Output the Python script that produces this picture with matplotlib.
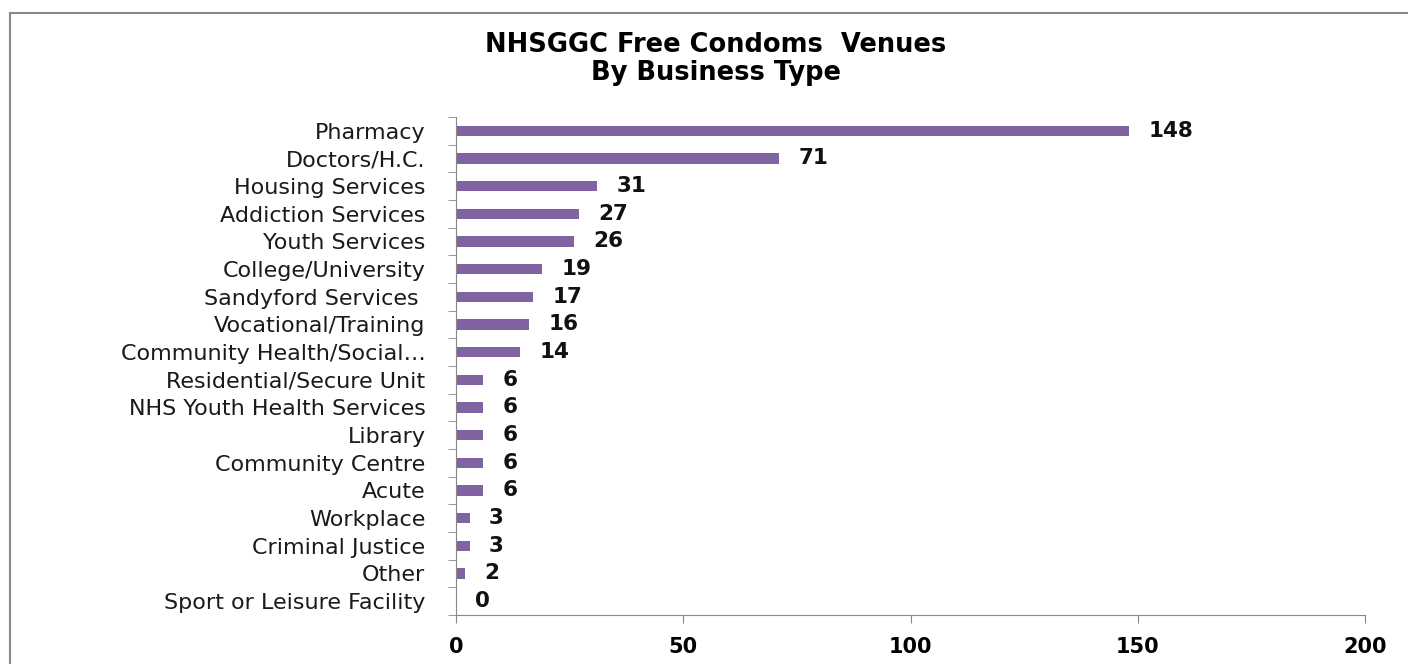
import matplotlib
matplotlib.use("Agg")
import matplotlib.pyplot as plt
from matplotlib.patches import Rectangle
import numpy as np

categories = ["Pharmacy", "Doctors/H.C.", "Housing Services", "Addiction Services",
              "Youth Services", "College/University", "Sandyford Services ",
              "Vocational/Training", "Community Health/Social\u2026",
              "Residential/Secure Unit", "NHS Youth Health Services", "Library",
              "Community Centre", "Acute", "Workplace", "Criminal Justice", "Other",
              "Sport or Leisure Facility"]
values = [148, 71, 31, 27, 26, 19, 17, 16, 14, 6, 6, 6, 6, 6, 3, 3, 2, 0]
xticks = [0, 50, 100, 150, 200]

color = "#8064A2"
fig = plt.figure(figsize=(14.08, 6.64), dpi=100)
ax = fig.add_axes([456/1408, 1-615/664, (1365-456)/1408, (615-117)/664])

y = np.arange(len(categories))
ax.barh(y, values, height=0.38, color=color)
ax.set_ylim(len(categories)-0.5, -0.5)
ax.set_xlim(0, 200)
ax.set_xticks(xticks)
ax.set_xticklabels([str(t) for t in xticks], fontsize=15, fontweight="bold")
ax.set_yticks(y)
ax.set_yticklabels(categories, fontsize=16, color="#1a1a1a")
ax.tick_params(axis="y", length=0, pad=22)
ax.set_yticks(np.arange(-0.5, len(categories)), minor=True)
ax.tick_params(axis="y", which="minor", length=6, color="#888888")
ax.tick_params(axis="x", length=6, color="#888888", pad=10)
for s in ["top", "right"]:
    ax.spines[s].set_visible(False)
for s in ["left", "bottom"]:
    ax.spines[s].set_color("#888888")

for yi, v in zip(y, values):
    ax.annotate(str(v), xy=(v, yi), xytext=(14, 0), textcoords="offset points",
                va="center", ha="left", fontsize=15.5, fontweight="bold", color="#111111")

fig.text(716/1408, 1-45/664, "NHSGGC Free Condoms  Venues", ha="center", va="center",
         fontsize=18.5, fontweight="bold")
fig.text(716/1408, 1-73/664, "By Business Type", ha="center", va="center",
         fontsize=18.5, fontweight="bold")

fig.patches.append(Rectangle((10/1408, -0.1), 1.2, 1.1 + (1-13/664) - 1,
                             transform=fig.transFigure, fill=False,
                             edgecolor="#888888", linewidth=1.5))
fig.savefig("out.png", dpi=100)
